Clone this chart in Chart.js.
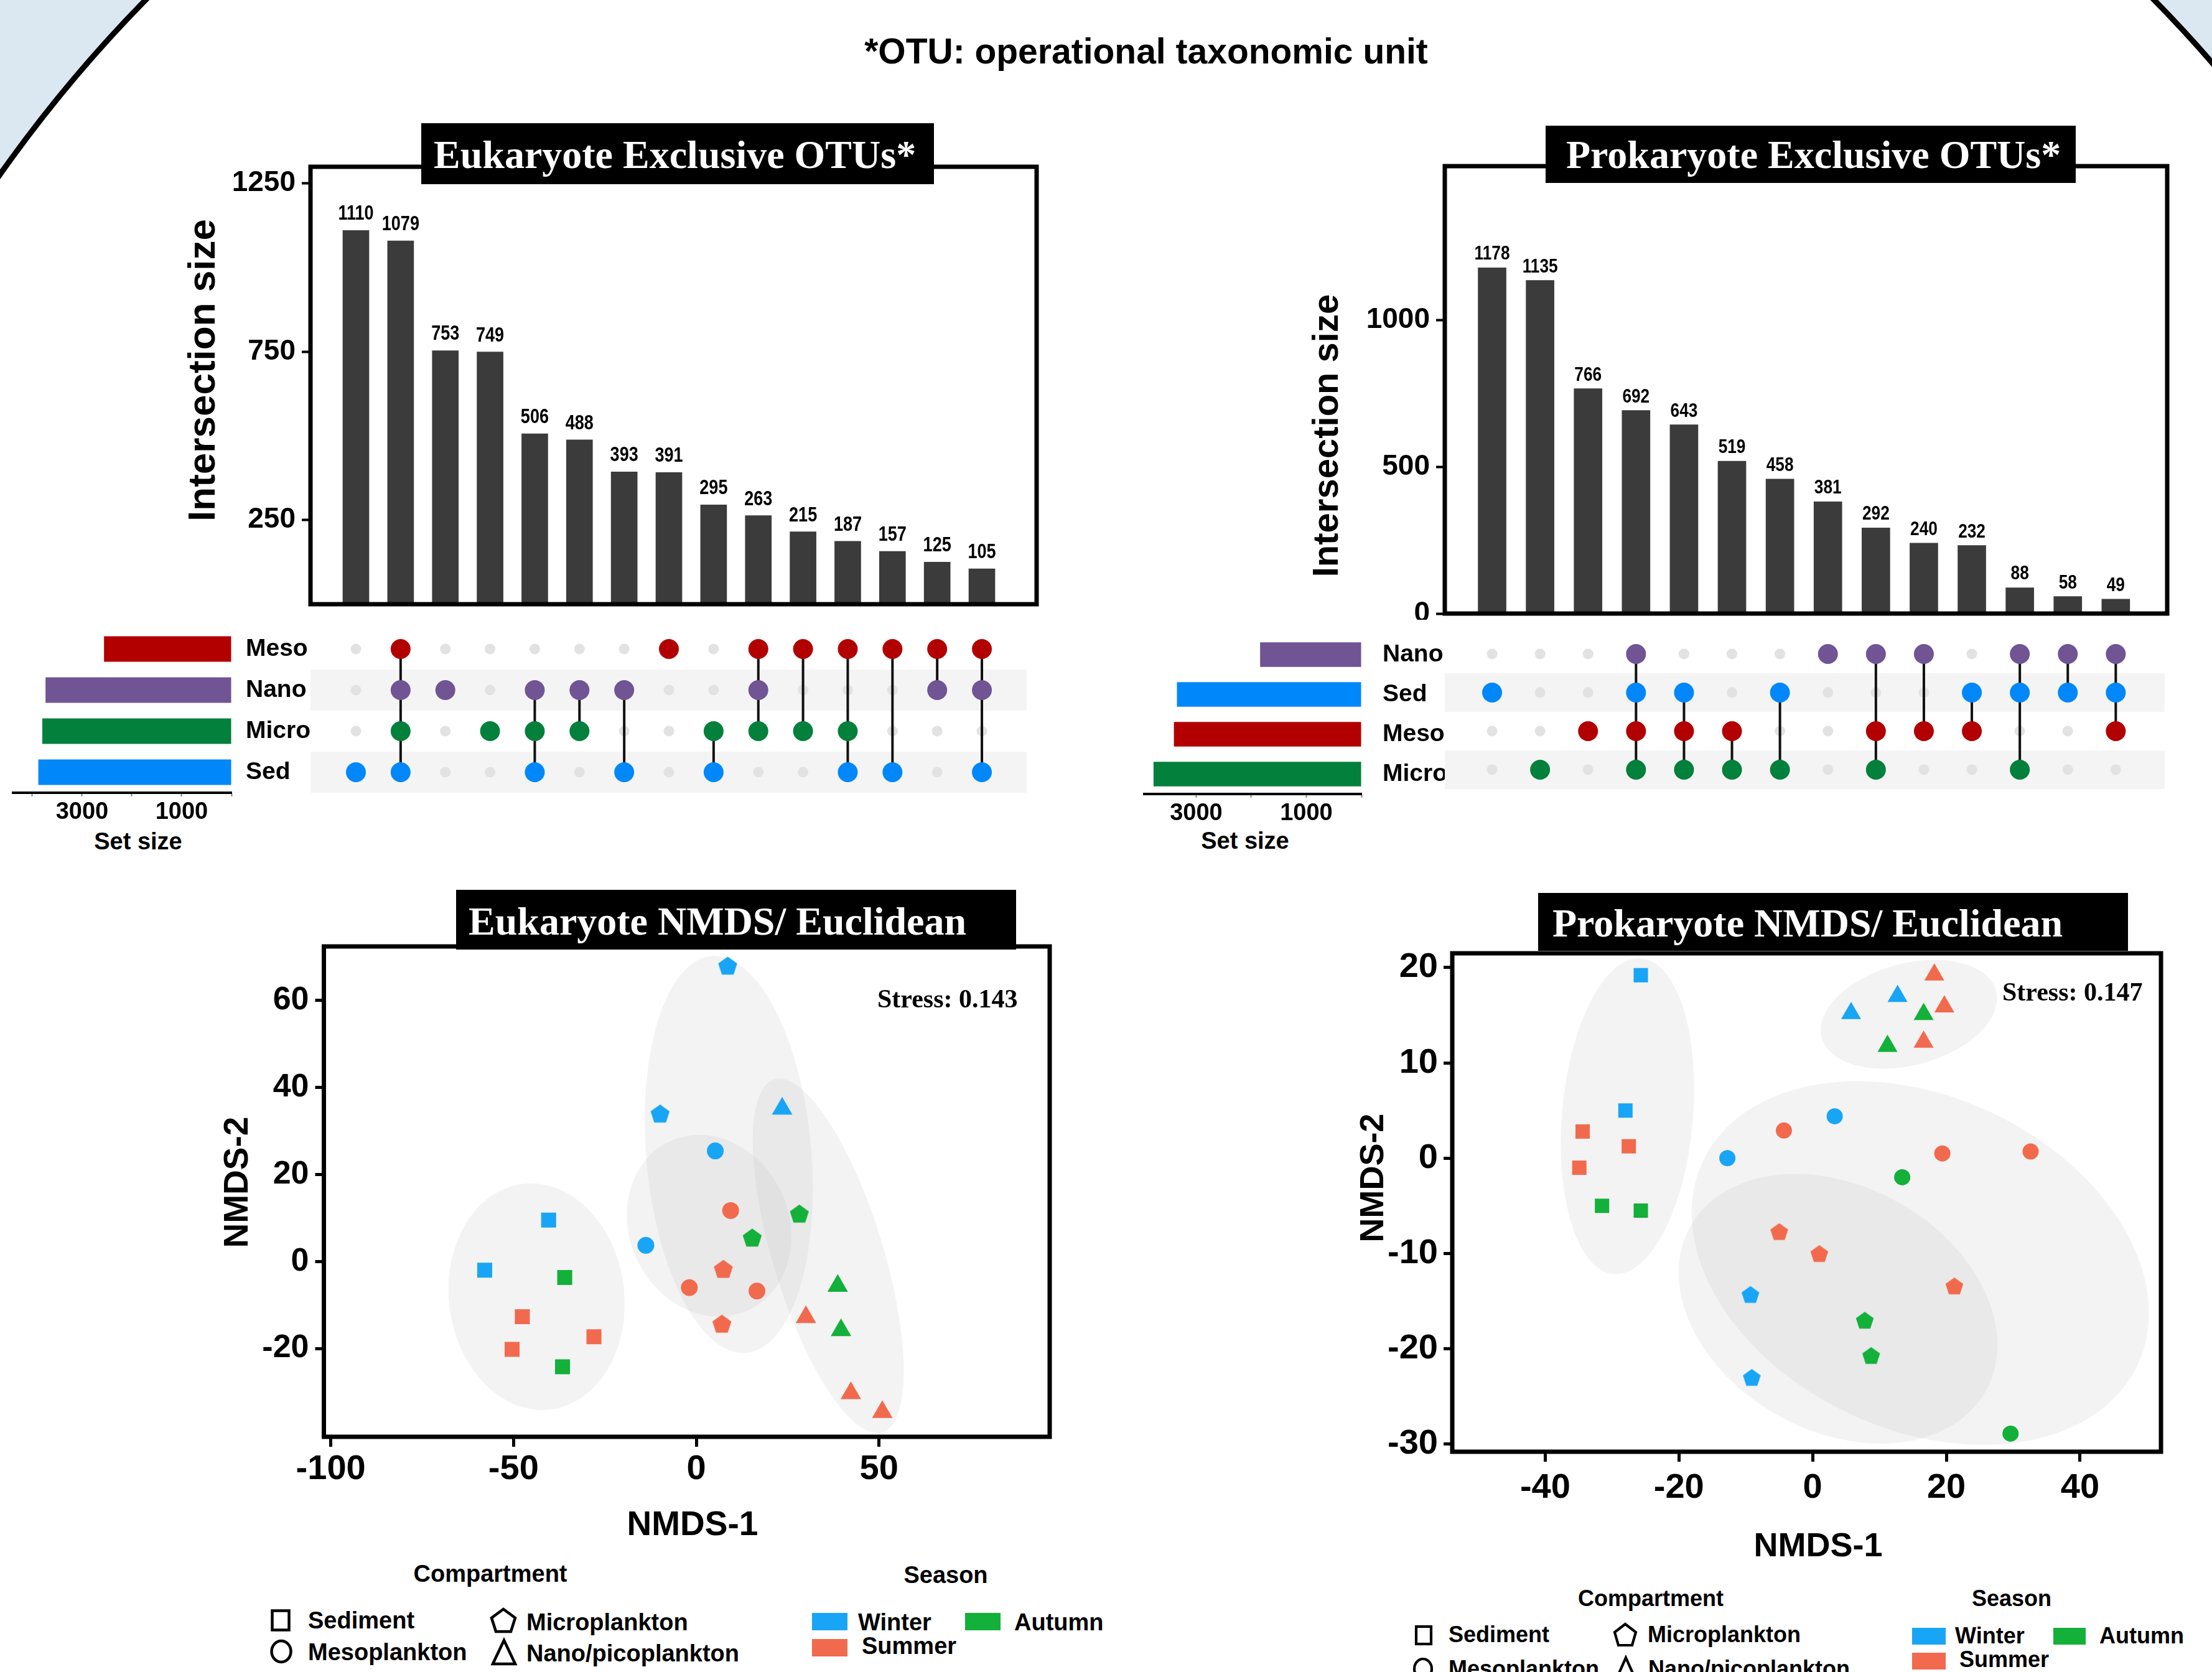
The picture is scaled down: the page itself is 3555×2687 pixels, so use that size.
<!DOCTYPE html>
<html><head><meta charset="utf-8">
<script src="https://cdn.jsdelivr.net/npm/chart.js@4.4.1/dist/chart.umd.min.js"></script>
<style>
html,body{margin:0;padding:0;}
body{width:3555px;height:2687px;position:relative;overflow:hidden;background:#dbe8f1;font-family:'Liberation Sans',Arial,sans-serif;}
#frame{position:absolute;left:-418px;top:-682px;width:4532px;height:4532px;border-radius:50%;border:9px solid #000;background:#fff;box-sizing:border-box;}
canvas{position:absolute;}
svg{position:absolute;overflow:visible;}
.t{position:absolute;white-space:nowrap;line-height:1;color:#000;font-weight:bold;font-family:'Liberation Sans',Arial,sans-serif;}
.rot{transform:translate(-50%,-50%) rotate(-90deg);}
.ctr{transform:translateX(-50%);}
.box{position:absolute;background:#000;z-index:5;}
.box span{position:absolute;color:#fff;font-family:'Liberation Serif','Times New Roman',serif;font-weight:bold;font-size:64px;line-height:1;white-space:nowrap;}
.serif{font-family:'Liberation Serif','Times New Roman',serif;}
.sw{position:absolute;}
</style></head>
<body>
<div id="frame"></div>

<div class="t" style="left:1842px;top:54px;font-size:57px;transform:translateX(-50%)">*OTU: operational taxonomic unit</div>

<div class="box" style="left:677px;top:198px;width:824px;height:98px"><span style="left:20px;top:19px">Eukaryote Exclusive OTUs*</span></div>
<div class="box" style="left:2484px;top:202px;width:852px;height:92px"><span style="left:33px;top:15px">Prokaryote Exclusive OTUs*</span></div>
<div class="box" style="left:733px;top:1430px;width:900px;height:96px"><span style="left:20px;top:19px">Eukaryote NMDS/ Euclidean</span></div>
<div class="box" style="left:2472px;top:1435px;width:948px;height:93px"><span style="left:23px;top:17px">Prokaryote NMDS/ Euclidean</span></div>

<div class="t rot" style="left:324px;top:595px;font-size:62px">Intersection size</div>
<div class="t rot" style="left:2130px;top:700px;font-size:58px">Intersection size</div>
<div class="t ctr" style="left:222px;top:1333px;font-size:38px">Set size</div>
<div class="t ctr" style="left:2001px;top:1332px;font-size:38px">Set size</div>

<div class="t rot" style="left:379px;top:1900px;font-size:55px">NMDS-2</div>
<div class="t rot" style="left:2204px;top:1893px;font-size:54px">NMDS-2</div>
<div class="t ctr" style="left:1113px;top:2421px;font-size:55px">NMDS-1</div>
<div class="t ctr" style="left:2922px;top:2455px;font-size:54px">NMDS-1</div>
<div class="t serif" style="left:1410px;top:1584px;font-size:42px;z-index:4">Stress: 0.143</div>
<div class="t serif" style="left:3218px;top:1573px;font-size:42px;z-index:4">Stress: 0.147</div>

<!-- Eukaryote legend -->
<div class="t ctr" style="left:788px;top:2510px;font-size:38px">Compartment</div>
<div class="t ctr" style="left:1520px;top:2512px;font-size:38px">Season</div>
<svg style="left:451px;top:2604px" width="1" height="1"><rect x="-13.5" y="-15.5" width="27" height="31" fill="none" stroke="#000" stroke-width="4.5"/></svg>
<svg style="left:452px;top:2654px" width="1" height="1"><ellipse cx="0" cy="0" rx="15.5" ry="17" fill="none" stroke="#000" stroke-width="4.5"/></svg>
<svg style="left:809px;top:2604px" width="1" height="1"><polygon points="0,-18 19,-4 12,18 -12,18 -19,-4" fill="none" stroke="#000" stroke-width="4.5" stroke-linejoin="miter"/></svg>
<svg style="left:810px;top:2655px" width="1" height="1"><polygon points="0,-19 18,19 -18,19" fill="none" stroke="#000" stroke-width="4.5"/></svg>
<div class="t" style="left:495px;top:2585px;font-size:38px">Sediment</div>
<div class="t" style="left:495px;top:2636px;font-size:38px">Mesoplankton</div>
<div class="t" style="left:846px;top:2588px;font-size:38px">Microplankton</div>
<div class="t" style="left:846px;top:2638px;font-size:38px">Nano/picoplankton</div>
<div class="sw" style="left:1305px;top:2592px;width:57px;height:28px;background:#19a5f5"></div>
<div class="sw" style="left:1551px;top:2592px;width:57px;height:28px;background:#13b03a"></div>
<div class="sw" style="left:1305px;top:2634px;width:57px;height:28px;background:#f26a4e"></div>
<div class="t" style="left:1379px;top:2588px;font-size:38px">Winter</div>
<div class="t" style="left:1630px;top:2588px;font-size:38px">Autumn</div>
<div class="t" style="left:1385px;top:2626px;font-size:38px">Summer</div>

<!-- Prokaryote legend -->
<div class="t ctr" style="left:2653px;top:2551px;font-size:36px">Compartment</div>
<div class="t ctr" style="left:3233px;top:2551px;font-size:36px">Season</div>
<svg style="left:2288px;top:2628px" width="1" height="1"><rect x="-12" y="-14" width="24" height="28" fill="none" stroke="#000" stroke-width="4.2"/></svg>
<svg style="left:2287px;top:2682px" width="1" height="1"><ellipse cx="0" cy="0" rx="14" ry="16" fill="none" stroke="#000" stroke-width="4.2"/></svg>
<svg style="left:2612px;top:2627px" width="1" height="1"><polygon points="0,-17 17,-4 11,17 -11,17 -17,-4" fill="none" stroke="#000" stroke-width="4.2"/></svg>
<svg style="left:2613px;top:2682px" width="1" height="1"><polygon points="0,-18 16,18 -16,18" fill="none" stroke="#000" stroke-width="4.2"/></svg>
<div class="t" style="left:2328px;top:2609px;font-size:36px">Sediment</div>
<div class="t" style="left:2328px;top:2664px;font-size:36px">Mesoplankton</div>
<div class="t" style="left:2648px;top:2609px;font-size:36px">Microplankton</div>
<div class="t" style="left:2649px;top:2664px;font-size:36px">Nano/picoplankton</div>
<div class="sw" style="left:3073px;top:2616px;width:54px;height:27px;background:#19a5f5"></div>
<div class="sw" style="left:3300px;top:2616px;width:52px;height:27px;background:#13b03a"></div>
<div class="sw" style="left:3073px;top:2656px;width:54px;height:27px;background:#f26a4e"></div>
<div class="t" style="left:3142px;top:2611px;font-size:36px">Winter</div>
<div class="t" style="left:3374px;top:2611px;font-size:36px">Autumn</div>
<div class="t" style="left:3149px;top:2649px;font-size:36px">Summer</div>

<script>
// ---------------- DATA ----------------
const eukIntersections = [1110, 1079, 753, 749, 506, 488, 393, 391, 295, 263, 215, 187, 157, 125, 105];
const eukSets = ['Meso', 'Nano', 'Micro', 'Sed'];
const eukSetSizes = [2560, 3735, 3800, 3880];
const eukCombos = ['Sed', 'Meso Nano Micro Sed', 'Nano', 'Micro', 'Nano Micro Sed', 'Nano Micro', 'Nano Sed',
  'Meso', 'Micro Sed', 'Meso Nano Micro', 'Meso Micro', 'Meso Micro Sed', 'Meso Sed', 'Meso Nano', 'Meso Nano Sed'];
const eukBarTicks = [250, 750, 1250];

const prokIntersections = [1178, 1135, 766, 692, 643, 519, 458, 381, 292, 240, 232, 88, 58, 49];
const prokSets = ['Nano', 'Sed', 'Meso', 'Micro'];
const prokSetSizes = [1840, 3350, 3405, 3775];
const prokCombos = ['Sed', 'Micro', 'Meso', 'Nano Sed Meso Micro', 'Sed Meso Micro', 'Meso Micro', 'Sed Micro',
  'Nano', 'Nano Meso Micro', 'Nano Meso', 'Sed Meso', 'Nano Sed Micro', 'Nano Sed', 'Nano Sed Meso'];
const prokBarTicks = [0, 500, 1000];

const setSizeTicks = [0, 1000, 2000, 3000, 4000];
const setSizeTickLabels = [1000, 3000];

// NMDS (shape: sq=Sediment, ci=Mesoplankton, pe=Microplankton, tr=Nano/picoplankton; season W/S/A)
const eukNmdsX = [8.6, -9.9, 23.5, 5.2, -13.8, -40.4, -57.9, -36.0, -36.6, -47.6, -50.4, -28.0, 9.4, -1.9, 16.6, 7.4, 7.0, 15.3, 28.2, 38.7, 39.6, 30.0, 42.3, 50.9];
const eukNmdsY = [68.0, 34.0, 35.1, 25.4, 3.7, 9.5, -2.0, -3.7, -24.2, -12.7, -20.2, -17.3, 11.7, -6.0, -6.8, -1.7, -14.3, 5.5, 11.0, -5.6, -15.8, -12.8, -30.3, -34.6];
const eukShape = ['pe','pe','tr','ci','ci','sq','sq','sq','sq','sq','sq','sq','ci','ci','ci','pe','pe','pe','pe','tr','tr','tr','tr','tr'];
const eukSeason = ['W','W','W','W','W','W','W','A','A','S','S','S','S','S','S','S','S','A','A','A','A','S','S','S'];
const eukXTicks = [-100, -50, 0, 50];
const eukYTicks = [-20, 0, 20, 40, 60];
const eukEllCx = [-43.7, 8.9, 3.5, 36.1];
const eukEllCy = [-8.1, 24.6, 8.2, 1.3];
const eukEllRx = [24.0, 22.6, 21.8, 15.1];
const eukEllRy = [31.1, 54.5, 25.5, 50.5];
const eukEllRot = [-7, -5, -25, -17];

const prokNmdsX = [-25.7, -28.0, -34.4, -27.5, -34.9, -31.5, -25.7, 5.75, 12.7, 18.2, 19.7, 16.6, 11.2, 16.6, 3.3, -12.75, -4.3, 19.4, 32.6, 13.4, 29.6, -5.0, 1.0, 21.2, -9.3, -9.1, 7.8, 8.75];
const prokNmdsY = [19.2, 5.0, 2.8, 1.25, -1.0, -5.0, -5.5, 15.2, 17.0, 19.25, 15.9, 15.1, 11.75, 12.2, 4.4, 0.0, 2.9, 0.5, 0.7, -2.0, -28.9, -7.7, -10.0, -13.4, -14.3, -23.0, -17.0, -20.7];
const prokShape = ['sq','sq','sq','sq','sq','sq','sq','tr','tr','tr','tr','tr','tr','tr','ci','ci','ci','ci','ci','ci','ci','pe','pe','pe','pe','pe','pe','pe'];
const prokSeason = ['W','W','S','S','S','A','A','W','W','S','S','A','A','S','W','W','S','S','S','A','A','S','S','S','W','W','A','A'];
const prokXTicks = [-40, -20, 0, 20, 40];
const prokYTicks = [-30, -20, -10, 0, 10, 20];
const prokEllCx = [-27.7, 14.4, 16.1, 3.8];
const prokEllCy = [4.4, 15.1, -11.0, -15.8];
const prokEllRx = [9.8, 13.5, 35.9, 25.3];
const prokEllRy = [23.7, 7.6, 24.9, 18.3];
const prokEllRot = [5, -15, 25, 29];

// ---------------- STYLE ----------------
const SET_COLORS = {Meso: '#b20000', Nano: '#705494', Micro: '#03803b', Sed: '#0087fa'};
const SEASON_COLORS = {W: '#19a5f5', S: '#f26a4e', A: '#13b03a'};
const SANS = "'Liberation Sans', Arial, sans-serif";
Chart.defaults.font.family = SANS;
Chart.defaults.color = '#000';

function mkCanvas(left, top, w, h) {
  const c = document.createElement('canvas');
  c.width = w; c.height = h;
  c.style.left = left + 'px'; c.style.top = top + 'px';
  c.style.width = w + 'px'; c.style.height = h + 'px';
  document.body.appendChild(c);
  return c;
}
const noPad = s => { s.paddingTop = 0; s.paddingBottom = 0; s.paddingLeft = 0; s.paddingRight = 0; };
const plain = v => String(v);
const boxPlugin = {
  id: 'boxFrame',
  afterDatasetsDraw(chart) {
    const {ctx, chartArea: a} = chart;
    ctx.save(); ctx.lineWidth = 7; ctx.strokeStyle = '#000';
    ctx.strokeRect(a.left, a.top, a.right - a.left, a.bottom - a.top);
    ctx.restore();
  }
};
function valueLabelPlugin(fontSize, gap) {
  return {
    id: 'valueLabels',
    afterDatasetsDraw(chart) {
      const ctx = chart.ctx, meta = chart.getDatasetMeta(0), ds = chart.data.datasets[0];
      meta.data.forEach((el, i) => {
        ctx.save();
        ctx.font = 'bold ' + fontSize + 'px ' + SANS;
        ctx.fillStyle = '#000'; ctx.textAlign = 'center'; ctx.textBaseline = 'alphabetic';
        ctx.translate(el.x, el.y - gap);
        ctx.scale(0.82, 1);   // narrow face
        ctx.fillText(String(ds.data[i].y), 0, 0);
        ctx.restore();
      });
    }
  };
}
const common = {responsive: false, animation: false, devicePixelRatio: 1,
  plugins: {legend: {display: false}, tooltip: {enabled: false}}};

function upsetBars(canvas, values, ticks, c) {
  return new Chart(canvas, {
    type: 'bar',
    data: {datasets: [{data: values.map((v, i) => ({x: i + 1, y: v})), backgroundColor: '#3b3b3b', barThickness: c.barW}]},
    options: Object.assign({}, common, {
      layout: {autoPadding: false, padding: {top: c.padTop, right: 10, bottom: 10, left: 0}},
      scales: {
        x: {type: 'linear', display: false, min: c.xmin, max: c.xmax, offset: false},
        y: {min: 0, max: c.ymax,
          afterBuildTicks: s => { s.ticks = ticks.map(v => ({value: v})); },
          afterFit: s => { s.width = c.yw; noPad(s); },
          grid: {drawOnChartArea: false, tickLength: 14, tickWidth: 4, tickColor: '#000'},
          border: {display: false},
          ticks: {callback: plain, font: {size: 46, weight: 'bold'}, color: '#000', padding: 10}}
      }
    }),
    plugins: [boxPlugin, valueLabelPlugin(c.labelSize, c.gap)]
  });
}

function upsetMatrix(canvas, sets, combos, c) {
  const col = [], colColors = [], gray = [], lines = [];
  combos.forEach((combo, i) => {
    const members = combo.split(' '), rows = [];
    sets.forEach((s, r) => {
      if (members.includes(s)) { col.push({x: i + 1, y: r}); colColors.push(SET_COLORS[s]); rows.push(r); }
      else gray.push({x: i + 1, y: r});
    });
    if (rows.length > 1) lines.push({data: [{x: i + 1, y: Math.min(...rows)}, {x: i + 1, y: Math.max(...rows)}],
      showLine: true, borderColor: '#111', borderWidth: 4, pointRadius: 0, order: 1});
  });
  const bands = {
    id: 'bands',
    beforeDatasetsDraw(chart) {
      const {ctx, chartArea: a, scales: {y}} = chart;
      const h = Math.abs(y.getPixelForValue(1) - y.getPixelForValue(0));
      ctx.save(); ctx.fillStyle = '#f4f4f4';
      [1, 3].forEach(r => { const py = y.getPixelForValue(r); ctx.fillRect(a.left, py - h / 2, a.right - a.left - c.bandInset, h); });
      ctx.restore();
    }
  };
  return new Chart(canvas, {
    type: 'scatter',
    data: {datasets: [
      {data: col, pointBackgroundColor: colColors, pointRadius: 16, pointBorderWidth: 0, order: 0},
      ...lines,
      {data: gray, pointBackgroundColor: '#e2e2e2', pointRadius: 8.5, pointBorderWidth: 0, order: 2}
    ]},
    options: Object.assign({}, common, {
      layout: {autoPadding: false, padding: 0},
      scales: {
        x: {type: 'linear', display: false, min: c.xmin, max: c.xmax},
        y: {type: 'linear', display: false, min: -0.5, max: 3.5, reverse: true}
      }
    }),
    plugins: [bands]
  });
}

function setSizeChart(canvas, sets, sizes, c) {
  return new Chart(canvas, {
    type: 'bar',
    data: {labels: sets, datasets: [{data: sizes, backgroundColor: sets.map(s => SET_COLORS[s]), barPercentage: 0.62, categoryPercentage: 1}]},
    options: Object.assign({}, common, {
      indexAxis: 'y',
      layout: {autoPadding: false, padding: {left: c.padLeft, top: 20, right: 0, bottom: 0}},
      scales: {
        x: {type: 'linear', reverse: true, min: 0, max: c.max, position: 'bottom',
          afterBuildTicks: s => { s.ticks = setSizeTicks.filter(v => v <= s.max).map(v => ({value: v})); },
          afterFit: s => { s.height = 60; noPad(s); },
          grid: {drawOnChartArea: false, tickLength: 6, tickWidth: 2, tickColor: '#888'},
          border: {display: true, width: 4, color: '#000'},
          ticks: {callback: v => setSizeTickLabels.includes(v) ? String(v) : '', autoSkip: false, maxRotation: 0,
            font: {size: 38, weight: 'bold'}, color: '#000', padding: 3}},
        y: {position: 'right', afterFit: s => { s.width = c.yw; noPad(s); },
          grid: {display: false}, border: {display: false},
          ticks: {autoSkip: false, font: {size: 39, weight: 'bold'}, color: '#000', padding: c.labelPad}}
      }
    })
  });
}

const pentCache = {};
function pentagon(color, r) {
  const key = color + r;
  if (pentCache[key]) return pentCache[key];
  const s = Math.ceil(2 * r + 2), cv = document.createElement('canvas');
  cv.width = s; cv.height = s;
  const g = cv.getContext('2d');
  g.fillStyle = color; g.beginPath();
  for (let k = 0; k < 5; k++) {
    const ang = -Math.PI / 2 + k * 2 * Math.PI / 5;
    g.lineTo(s / 2 + r * Math.cos(ang), s / 2 + r * Math.sin(ang) + r * 0.095);
  }
  g.closePath(); g.fill();
  pentCache[key] = cv; return cv;
}

function nmdsChart(canvas, xs, ys, shapes, seasons, ell, c) {
  const styles = shapes.map((sh, i) => sh === 'sq' ? 'rect' : sh === 'ci' ? 'circle' : sh === 'tr' ? 'triangle' : pentagon(SEASON_COLORS[seasons[i]], c.pentR));
  const radii = shapes.map(sh => sh === 'sq' ? c.sqR : sh === 'ci' ? c.ciR : sh === 'tr' ? c.trR : c.pentR);
  const ellipses = {
    id: 'ellipses',
    beforeDatasetsDraw(chart) {
      const {ctx, scales: {x, y}} = chart;
      const ppu = x.getPixelForValue(1) - x.getPixelForValue(0);
      ctx.save(); ctx.fillStyle = 'rgba(183,183,183,0.167)';
      ell.cx.forEach((cx, i) => {
        ctx.beginPath();
        ctx.ellipse(x.getPixelForValue(cx), y.getPixelForValue(ell.cy[i]), ell.rx[i] * ppu, ell.ry[i] * ppu, ell.rot[i] * Math.PI / 180, 0, 2 * Math.PI);
        ctx.fill();
      });
      ctx.restore();
    }
  };
  return new Chart(canvas, {
    type: 'scatter',
    data: {datasets: [{data: xs.map((v, i) => ({x: v, y: ys[i]})),
      pointStyle: styles, pointRadius: radii,
      pointBackgroundColor: seasons.map(s => SEASON_COLORS[s]), pointBorderWidth: 0}]},
    options: Object.assign({}, common, {
      layout: {autoPadding: false, padding: {top: c.padTop, right: 20, bottom: 0, left: 0}},
      scales: {
        x: {type: 'linear', min: c.xmin, max: c.xmax,
          afterBuildTicks: s => { s.ticks = c.xticks.map(v => ({value: v})); },
          afterFit: s => { s.height = 90; noPad(s); },
          grid: {drawOnChartArea: false, tickLength: 16, tickWidth: 5, tickColor: '#000'},
          border: {display: false},
          ticks: {callback: plain, font: {size: c.xFont, weight: 'bold'}, color: '#000', padding: c.xPad, maxRotation: 0, autoSkip: false}},
        y: {type: 'linear', min: c.ymin, max: c.ymax,
          afterBuildTicks: s => { s.ticks = c.yticks.map(v => ({value: v})); },
          afterFit: s => { s.width = c.yw; noPad(s); },
          grid: {drawOnChartArea: false, tickLength: 14, tickWidth: 5, tickColor: '#000'},
          border: {display: false},
          ticks: {callback: plain, font: {size: c.yFont, weight: 'bold'}, color: '#000', padding: c.yPad, autoSkip: false}}
      }
    }),
    plugins: [ellipses, boxPlugin]
  });
}

// ---------------- BUILD ----------------
upsetBars(mkCanvas(283, 240, 1393, 741), eukIntersections, eukBarTicks,
  {barW: 42, padTop: 28, xmin: -0.016, xmax: 16.224, ymax: 1299, yw: 216, labelSize: 33, gap: 17});
upsetMatrix(mkCanvas(499, 1010, 1167, 264), eukSets, eukCombos, {xmin: -0.016, xmax: 16.224, bandInset: 16});
setSizeChart(mkCanvas(0, 990, 499, 344), eukSets, eukSetSizes, {padLeft: 21, max: 4387, yw: 127, labelPad: 15});

upsetBars(mkCanvas(2091, 240, 1402, 756), prokIntersections, prokBarTicks,
  {barW: 45, padTop: 27, xmin: 0.014, xmax: 15.072, ymax: 1524, yw: 231, labelSize: 32, gap: 13});
upsetMatrix(mkCanvas(2322, 1020, 1161, 248), prokSets, prokCombos, {xmin: 0.014, xmax: 15.072, bandInset: 4});
setSizeChart(mkCanvas(1800, 1000, 522, 336), prokSets, prokSetSizes, {padLeft: 39, max: 3943, yw: 134, labelPad: 26});

nmdsChart(mkCanvas(300, 1490, 1407, 909), eukNmdsX, eukNmdsY, eukShape, eukSeason,
  {cx: eukEllCx, cy: eukEllCy, rx: eukEllRx, ry: eukEllRy, rot: eukEllRot},
  {padTop: 31, xmin: -101.9, xmax: 96.7, ymin: -40.3, ymax: 72.4, xticks: eukXTicks, yticks: eukYTicks,
   yw: 220.5, xFont: 56, yFont: 52, xPad: 3, yPad: 10, sqR: 17, ciR: 13.5, trR: 19, pentR: 16});
nmdsChart(mkCanvas(2220, 1500, 1273, 923), prokNmdsX, prokNmdsY, prokShape, prokSeason,
  {cx: prokEllCx, cy: prokEllCy, rx: prokEllRx, ry: prokEllRy, rot: prokEllRot},
  {padTop: 32, xmin: -53.9, xmax: 52.1, ymin: -30.8, ymax: 21.5, xticks: prokXTicks, yticks: prokYTicks,
   yw: 114, xFont: 56, yFont: 56, xPad: 9, yPad: 9, sqR: 16.3, ciR: 13, trR: 18.5, pentR: 15});
</script>
</body></html>
